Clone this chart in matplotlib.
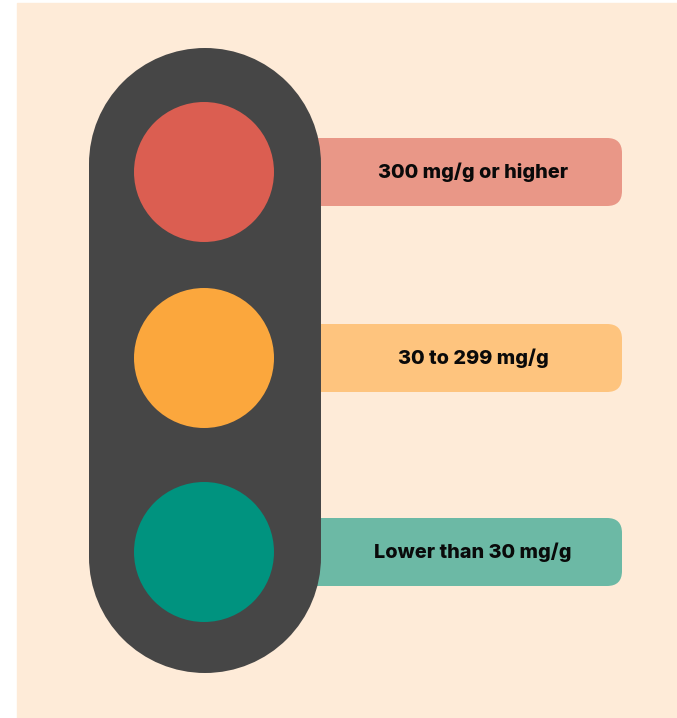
import matplotlib.pyplot as plt
from matplotlib.patches import FancyBboxPatch, Rectangle, Circle

# levels, top to bottom
labels = ["300 mg/g or higher", "30 to 299 mg/g", "Lower than 30 mg/g"]
lamp_colors = ["#DB5E51", "#FBA73D", "#00937F"]
bar_colors = ["#E99787", "#FEC47E", "#6CB9A5"]

bg = "#FEEBD8"
body_color = "#464646"

W, H = 677, 718
fig = plt.figure(figsize=(W / 100, H / 100), dpi=100)
ax = fig.add_axes([0, 0, 1, 1])
ax.set_xlim(0, W)
ax.set_ylim(H, 0)
ax.axis("off")

ax.add_patch(Rectangle((17, 3), W - 17, H - 3, color=bg, zorder=0))

# light positions
cx = 204
cys = [172, 358, 552]
r = 70
bar_h = 68

# label bars (left end hidden behind the body)
for cy, lab, c in zip(cys, labels, bar_colors):
    ax.add_patch(FancyBboxPatch((290, cy - bar_h / 2), 332, bar_h,
                                boxstyle="round,pad=0,rounding_size=15",
                                fc=c, ec="none", zorder=1))
    ax.text(473, cy, lab, ha="center", va="center", fontsize=14.3,
            fontweight="heavy", family="Inter", color="#0A0A0A", zorder=3)

# traffic light body: a stadium = rectangle + two half circles
bx, bw = 205, 232
top, bottom = 48, 673
br = bw / 2
ax.add_patch(Rectangle((bx - br, top + br), bw, bottom - top - bw,
                       fc=body_color, ec="none", zorder=2))
for yy in (top + br, bottom - br):
    ax.add_patch(Circle((bx, yy), br, fc=body_color, ec="none", zorder=2))

for cy, c in zip(cys, lamp_colors):
    ax.add_patch(Circle((cx, cy), r, fc=c, ec="none", zorder=3))

fig.savefig("out.png", dpi=100, facecolor="white")
